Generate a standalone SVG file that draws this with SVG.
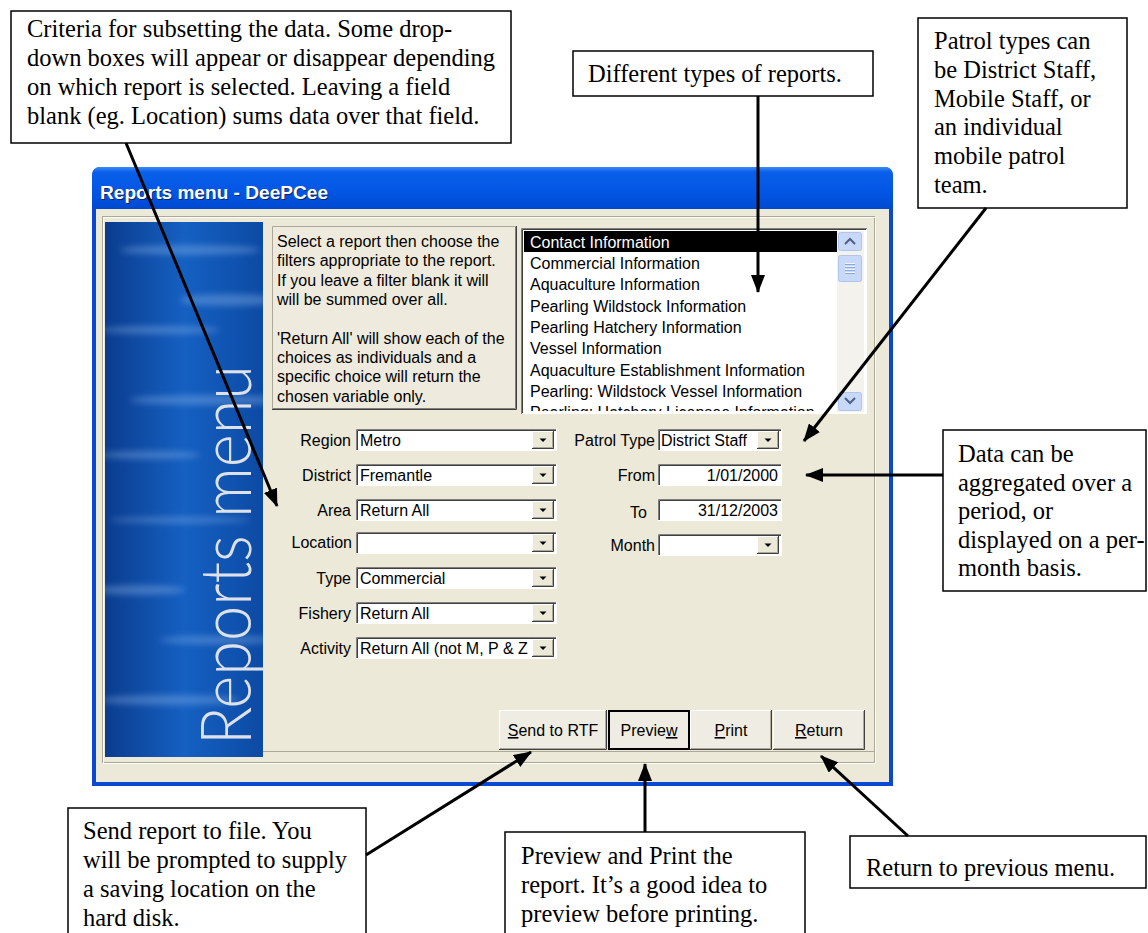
<svg xmlns="http://www.w3.org/2000/svg" width="1148" height="933" viewBox="0 0 1148 933">
<defs>
<style>
.box{fill:#fff;stroke:#000;stroke-width:1.5}
.ct{font-family:"Liberation Serif","Times New Roman",serif;font-size:24.5px;fill:#000}
.ui{font-family:"Liberation Sans",Arial,sans-serif;font-size:16px;fill:#000}
.end{text-anchor:end}
.mid{text-anchor:middle}
.conn{stroke:#000;stroke-width:3;fill:none;marker-end:url(#ah)}
.streak{fill:#9CC3F2;opacity:0.35;filter:url(#blur)}
</style>
<marker id="ah" viewBox="0 0 18 14" markerWidth="18" markerHeight="14" refX="17" refY="7" orient="auto" markerUnits="userSpaceOnUse">
<path d="M0,0 L18,7 L0,14 Z" fill="#000"/>
</marker>
<linearGradient id="tg" x1="0" y1="0" x2="0" y2="1">
<stop offset="0" stop-color="#3D8CF6"/>
<stop offset="0.12" stop-color="#0A5FEA"/>
<stop offset="0.6" stop-color="#0256E4"/>
<stop offset="1" stop-color="#0049D0"/>
</linearGradient>
<linearGradient id="pg" x1="0" y1="0" x2="1" y2="0">
<stop offset="0" stop-color="#0B3C8E"/>
<stop offset="0.5" stop-color="#1560C2"/>
<stop offset="1" stop-color="#0C4AA4"/>
</linearGradient>
<filter id="blur" x="-50%" y="-100%" width="200%" height="300%"><feGaussianBlur stdDeviation="3"/></filter>
<clipPath id="lbclip"><rect x="525" y="232" width="311" height="179"/></clipPath>
<clipPath id="pclip"><rect x="105" y="222" width="158" height="535"/></clipPath>
<g id="ddb">
<rect x="0" y="0" width="22" height="18" fill="#ECE9D8"/>
<path d="M0.5,17.5 V0.5 H21.5" stroke="#fff" fill="none"/>
<path d="M0,17.5 H21.5 V0" stroke="#404040" fill="none"/>
<path d="M1,16.5 H20.5 V1" stroke="#ACA899" fill="none"/>
<path d="M7.5,7.5 H14.5 L11,11 Z" fill="#000"/>
</g>
<g id="comboL">
<rect width="201" height="22" fill="#fff"/>
<path d="M0.5,22 V0.5 H201" stroke="#808080" fill="none"/>
<path d="M1.5,21 V1.5 H200" stroke="#404040" fill="none"/>
<path d="M0,21.5 H200.5 V0" stroke="#fff" fill="none"/>
<use href="#ddb" x="176" y="2"/>
</g>
<g id="fieldR">
<rect width="124" height="22" fill="#fff"/>
<path d="M0.5,22 V0.5 H124" stroke="#808080" fill="none"/>
<path d="M1.5,21 V1.5 H123" stroke="#404040" fill="none"/>
<path d="M0,21.5 H123.5 V0" stroke="#fff" fill="none"/>
</g>
<g id="comboR">
<use href="#fieldR"/>
<use href="#ddb" x="99" y="2"/>
</g>
</defs>

<rect width="1148" height="933" fill="#fff"/>

<g id="window">
<path d="M92,786 V176 Q92,167 101,167 H884 Q893,167 893,176 V786 Z" fill="#0A48D2"/>
<path d="M92,209 V176 Q92,167 101,167 H884 Q893,167 893,176 V209 Z" fill="url(#tg)"/>
<text x="101" y="200" font-family="'Liberation Sans',Arial,sans-serif" font-size="18" font-weight="bold" fill="#0A246A" textLength="228" lengthAdjust="spacingAndGlyphs">Reports menu - DeePCee</text>
<text x="100" y="199" font-family="'Liberation Sans',Arial,sans-serif" font-size="18" font-weight="bold" fill="#fff" textLength="228" lengthAdjust="spacingAndGlyphs">Reports menu - DeePCee</text>
<rect x="96" y="209" width="793" height="573" fill="#ECE9D8"/>
<rect x="102.5" y="216.5" width="772" height="546" fill="none" stroke="#ACA899"/>
<rect x="103.5" y="217.5" width="772" height="546" fill="none" stroke="#fff" opacity="0.9"/>
<line x1="263" y1="751.5" x2="874" y2="751.5" stroke="#ACA899"/>

<g id="side-panel">
<rect x="105" y="222" width="158" height="535" fill="url(#pg)"/>
<g clip-path="url(#pclip)">
<ellipse class="streak" cx="190" cy="250" rx="70" ry="5"/>
<ellipse class="streak" cx="230" cy="300" rx="50" ry="6"/>
<ellipse class="streak" cx="160" cy="330" rx="60" ry="4"/>
<ellipse class="streak" cx="210" cy="400" rx="80" ry="5"/>
<ellipse class="streak" cx="150" cy="455" rx="50" ry="4"/>
<ellipse class="streak" cx="180" cy="520" rx="70" ry="3"/>
<ellipse class="streak" cx="140" cy="590" rx="45" ry="5"/>
<ellipse class="streak" cx="220" cy="640" rx="60" ry="4"/>
<ellipse class="streak" cx="170" cy="700" rx="70" ry="5"/>
</g>
<text transform="translate(251,745) rotate(-90)" font-family="Lato,'Open Sans','Liberation Sans',sans-serif" font-weight="300" font-size="70" fill="#DDE1EA" textLength="380" lengthAdjust="spacingAndGlyphs">Reports menu</text>
</g>

<g id="instructions">
<rect x="272" y="226" width="245" height="184" fill="#EEEBDE"/>
<path d="M272.5,410 V226.5 H517" stroke="#ACA899" fill="none"/>
<path d="M272,409.5 H516.5 V226" stroke="#404040" fill="none"/>
<path d="M273,408.5 H515.5 V227" stroke="#808080" fill="none"/>
<g class="ui">
<text x="277" y="247">Select a report then choose the</text>
<text x="277" y="266">filters appropriate to the report.</text>
<text x="277" y="286">If you leave a filter blank it will</text>
<text x="277" y="305">will be summed over all.</text>
<text x="277" y="344">'Return All' will show each of the</text>
<text x="277" y="363">choices as individuals and a</text>
<text x="277" y="382">specific choice will return the</text>
<text x="277" y="402">chosen variable only.</text>
</g>
</g>

<g id="report-list">
<rect x="521" y="228" width="346" height="186" fill="#fff"/>
<path d="M521.5,414 V228.5 H867" stroke="#808080" fill="none"/>
<path d="M522.5,413 V229.5 H866" stroke="#404040" fill="none"/>
<rect x="524" y="231" width="313" height="21" fill="#000"/>
<g class="ui" clip-path="url(#lbclip)">
<text x="530" y="248" fill="#fff">Contact Information</text>
<text x="530" y="269">Commercial Information</text>
<text x="530" y="290">Aquaculture Information</text>
<text x="530" y="312">Pearling Wildstock Information</text>
<text x="530" y="333">Pearling Hatchery Information</text>
<text x="530" y="354">Vessel Information</text>
<text x="530" y="376">Aquaculture Establishment Information</text>
<text x="530" y="397">Pearling: Wildstock Vessel Information</text>
<text x="530" y="418">Pearling: Hatchery Licensee Information</text>
</g>
<rect x="837" y="231" width="27" height="181" fill="#F3F2EC"/>
<rect x="838.5" y="232.5" width="23" height="18" rx="2" fill="#C8D8F8" stroke="#B0C4EE"/>
<path d="M845,244 L850,239 L855,244" stroke="#4D6185" stroke-width="2" fill="none"/>
<rect x="838.5" y="255.5" width="23" height="26" rx="2" fill="#C8D8F8" stroke="#B0C4EE"/>
<path d="M845,263.5 H855 M845,266.5 H855 M845,269.5 H855 M845,272.5 H855" stroke="#EEF3FE" fill="none"/>
<path d="M845,264.5 H855 M845,267.5 H855 M845,270.5 H855 M845,273.5 H855" stroke="#8CA8E0" fill="none"/>
<rect x="838.5" y="392.5" width="23" height="18" rx="2" fill="#C8D8F8" stroke="#B0C4EE"/>
<path d="M845,398 L850,403 L855,398" stroke="#4D6185" stroke-width="2" fill="none"/>
</g>

<g id="filters-left" class="ui">
<text x="351" y="446" class="end">Region</text>
<use href="#comboL" x="356" y="429"/>
<text x="360" y="446">Metro</text>
<text x="351" y="481" class="end">District</text>
<use href="#comboL" x="356" y="464"/>
<text x="360" y="481">Fremantle</text>
<text x="351" y="516" class="end">Area</text>
<use href="#comboL" x="356" y="499"/>
<text x="360" y="516">Return All</text>
<text x="352" y="548" class="end">Location</text>
<use href="#comboL" x="356" y="532"/>
<text x="351" y="584" class="end">Type</text>
<use href="#comboL" x="356" y="567"/>
<text x="360" y="584">Commercial</text>
<text x="351" y="619" class="end">Fishery</text>
<use href="#comboL" x="356" y="602"/>
<text x="360" y="619">Return All</text>
<text x="351" y="654" class="end">Activity</text>
<use href="#comboL" x="356" y="637"/>
<text x="360" y="654">Return All (not M, P &amp; Z</text>
</g>

<g id="filters-right" class="ui">
<text x="655" y="446" class="end">Patrol Type</text>
<use href="#comboR" x="658" y="429"/>
<text x="661" y="446">District Staff</text>
<text x="655" y="481" class="end">From</text>
<use href="#fieldR" x="658" y="464"/>
<text x="778" y="481" class="end">1/01/2000</text>
<text x="647" y="518" class="end">To</text>
<use href="#fieldR" x="658" y="499"/>
<text x="778" y="516" class="end">31/12/2003</text>
<text x="655" y="551" class="end">Month</text>
<use href="#comboR" x="658" y="534"/>
</g>

<g id="buttons" class="ui">
<g id="btn-send">
<rect x="499" y="710" width="108" height="40" fill="#EFEDE3"/>
<path d="M499.5,750 V710.5 H607" stroke="#fff" fill="none"/>
<path d="M499,749.5 H606.5 V710" stroke="#404040" fill="none"/>
<path d="M500,748.5 H605.5 V711" stroke="#ACA899" fill="none"/>
<text x="553" y="736" class="mid"><tspan text-decoration="underline">S</tspan>end to RTF</text>
</g>
<g id="btn-preview">
<rect x="609" y="711" width="80" height="38" fill="#EFEDE3" stroke="#000" stroke-width="2"/>
<text x="649" y="736" class="mid">Previe<tspan text-decoration="underline">w</tspan></text>
</g>
<g id="btn-print">
<rect x="690" y="710" width="82" height="40" fill="#EFEDE3"/>
<path d="M690.5,750 V710.5 H772" stroke="#fff" fill="none"/>
<path d="M690,749.5 H771.5 V710" stroke="#404040" fill="none"/>
<path d="M691,748.5 H770.5 V711" stroke="#ACA899" fill="none"/>
<text x="731" y="736" class="mid"><tspan text-decoration="underline">P</tspan>rint</text>
</g>
<g id="btn-return">
<rect x="773" y="710" width="92" height="40" fill="#EFEDE3"/>
<path d="M773.5,750 V710.5 H865" stroke="#fff" fill="none"/>
<path d="M773,749.5 H864.5 V710" stroke="#404040" fill="none"/>
<path d="M774,748.5 H863.5 V711" stroke="#ACA899" fill="none"/>
<text x="819" y="736" class="mid"><tspan text-decoration="underline">R</tspan>eturn</text>
</g>
</g>
</g>

<g id="note-criteria">
<rect class="box" x="11" y="11" width="500" height="132"/>
<text class="ct" x="27" y="37">Criteria for subsetting the data. Some drop-</text>
<text class="ct" x="27" y="66">down boxes will appear or disappear depending</text>
<text class="ct" x="27" y="95">on which report is selected. Leaving a field</text>
<text class="ct" x="27" y="124">blank (eg. Location) sums data over that field.</text>
</g>

<g id="note-types">
<rect class="box" x="573" y="51" width="300" height="45"/>
<text class="ct" x="588" y="82">Different types of reports.</text>
</g>

<g id="note-patrol">
<rect class="box" x="918" y="18" width="209" height="190"/>
<text class="ct" x="934" y="49">Patrol types can</text>
<text class="ct" x="934" y="78">be District Staff,</text>
<text class="ct" x="934" y="107">Mobile Staff, or</text>
<text class="ct" x="934" y="135">an individual</text>
<text class="ct" x="934" y="164">mobile patrol</text>
<text class="ct" x="934" y="193">team.</text>
</g>

<g id="note-period">
<rect class="box" x="943" y="430" width="203" height="161"/>
<text class="ct" x="958" y="462">Data can be</text>
<text class="ct" x="958" y="491">aggregated over a</text>
<text class="ct" x="958" y="519">period, or</text>
<text class="ct" x="958" y="548">displayed on a per-</text>
<text class="ct" x="958" y="576">month basis.</text>
</g>

<g id="note-send">
<rect class="box" x="68" y="808" width="298" height="130"/>
<text class="ct" x="83" y="839">Send report to file. You</text>
<text class="ct" x="83" y="868">will be prompted to supply</text>
<text class="ct" x="83" y="897">a saving location on the</text>
<text class="ct" x="83" y="926">hard disk.</text>
</g>

<g id="note-preview">
<rect class="box" x="505" y="832" width="300" height="106"/>
<text class="ct" x="521" y="864">Preview and Print the</text>
<text class="ct" x="521" y="893">report. It’s a good idea to</text>
<text class="ct" x="521" y="922">preview before printing.</text>
</g>

<g id="note-return">
<rect class="box" x="850" y="836" width="296" height="52"/>
<text class="ct" x="866" y="876">Return to previous menu.</text>
</g>

<g id="connectors">
<line class="conn" x1="126" y1="143" x2="277" y2="506"/>
<line class="conn" x1="758" y1="96" x2="758" y2="292"/>
<line class="conn" x1="986" y1="208" x2="804" y2="441"/>
<line class="conn" x1="943" y1="475" x2="806" y2="475"/>
<line class="conn" x1="366" y1="855" x2="531" y2="752"/>
<line class="conn" x1="645" y1="832" x2="645" y2="764"/>
<line class="conn" x1="908" y1="836" x2="821" y2="756"/>
</g>
</svg>
